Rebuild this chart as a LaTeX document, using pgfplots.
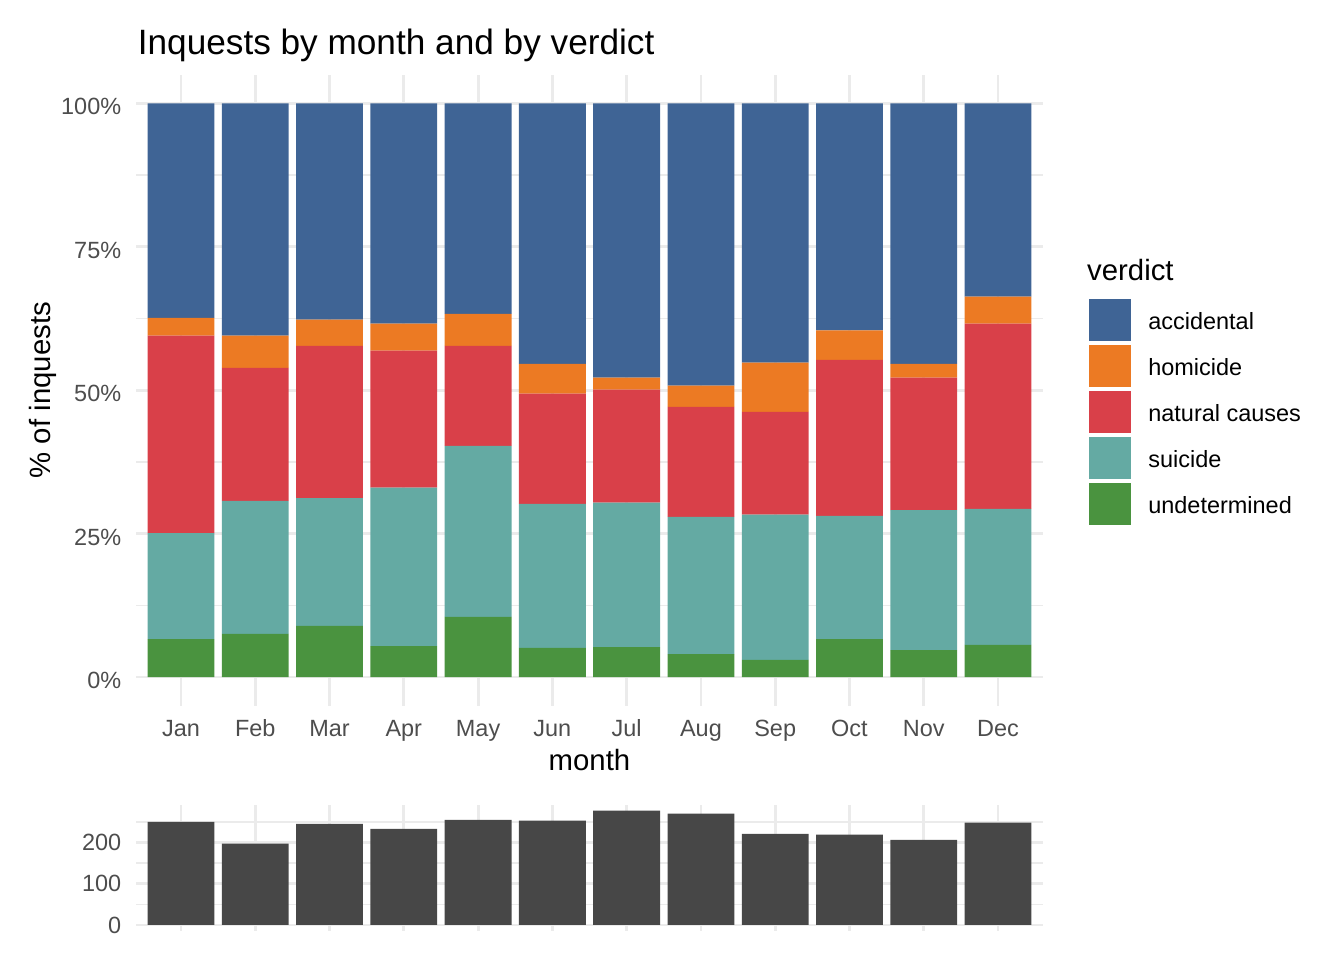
\documentclass[border=0pt]{standalone}
\usepackage{fontspec}
\setmainfont{Liberation Sans}
\usepackage{pgfplots}
\pgfplotsset{compat=1.18}
\usepackage{pgfplotstable}

\definecolor{cacc}{HTML}{3F6495}
\definecolor{chom}{HTML}{EC7A23}
\definecolor{cnat}{HTML}{D94049}
\definecolor{csui}{HTML}{64AAA3}
\definecolor{cund}{HTML}{4A933F}
\definecolor{gridc}{HTML}{EBEBEB}
\definecolor{tickc}{HTML}{4D4D4D}
\definecolor{barc}{HTML}{474747}

\pgfplotstableread{
m und sui nat hom acc
1 6.6 18.5 34.4 3.1 37.4
2 7.5 23.2 23.2 5.6 40.5
3 8.9 22.3 26.5 4.6 37.7
4 5.4 27.6 23.9 4.7 38.4
5 10.5 29.8 17.4 5.6 36.7
6 5.1 25.1 19.2 5.2 45.4
7 5.2 25.2 19.7 2.1 47.8
8 4.0 23.9 19.2 3.7 49.2
9 3.0 25.3 17.9 8.6 45.2
10 6.6 21.5 27.2 5.1 39.6
11 4.7 24.4 23.1 2.4 45.4
12 5.6 23.7 32.3 4.7 33.7
}\verdicttable

\pgfplotstableread{
m n
1 250
2 197
3 245
4 233
5 255
6 253
7 277
8 270
9 221
10 219
11 206
12 248
}\counttable

\pgfplotsset{
  common/.style={
    scale only axis,
    width=339.83pt,
    xmin=0.4, xmax=12.6,
    enlargelimits=false,
    axis line style={draw=none},
    major tick length=0pt,
    minor tick length=0pt,
    tick style={draw=none},
    xtick={1,2,3,4,5,6,7,8,9,10,11,12},
    xmajorgrids, ymajorgrids, yminorgrids,
    major grid style={draw=gridc, line width=1.07pt},
    minor grid style={draw=gridc, line width=0.53pt},
    tick label style={font=\fontsize{8.8}{10.56}\selectfont, text=tickc, inner sep=0pt},
    /pgf/number format/assume math mode=true,
  }
}

\begin{document}
\begin{tikzpicture}
\path[use as bounding box] (0,0) rectangle (504pt,360pt);

\begin{axis}[
  common,
  at={(51.15pt,95.36pt)}, anchor=south west,
  height=236.66pt,
  ymin=-5, ymax=105,
  ybar stacked, bar width=0.9,
  ytick={0,25,50,75,100},
  yticklabels={0\%,25\%,50\%,75\%,100\%},
  minor ytick={12.5,37.5,62.5,87.5},
  xticklabels={Jan,Feb,Mar,Apr,May,Jun,Jul,Aug,Sep,Oct,Nov,Dec},
  xticklabel style={anchor=base, yshift=-11.7pt},
  yticklabel style={anchor=base east, xshift=-5.5pt, yshift=-4.3pt},
  title={Inquests by month and by verdict},
  every axis title/.style={at={(axis description cs:0.001,1.0311)}, anchor=base west, inner sep=0pt, font=\fontsize{13.2}{15.84}\selectfont},
  xlabel={month},
  xlabel style={at={(axis description cs:0.5,-0.1019)}, anchor=base, inner sep=0pt, font=\fontsize{11}{13.2}\selectfont},
  ylabel={\% of inquests},
  every axis y label/.style={at={(axis description cs:-0.0946,0.5)}, rotate=90, anchor=base, inner sep=0pt, font=\fontsize{11}{13.2}\selectfont},
  legend image code/.code={\fill[#1] (0pt,-4.5pt) rectangle (15.75pt,11.25pt);},
  reverse legend,
  legend cell align=left,
  legend style={at={(axis description cs:1.0512,0.6444)}, anchor=north west, draw=none, fill=none, inner sep=0pt, outer sep=0pt, row sep=1.5pt, column sep=6.5pt,
    nodes={inner sep=0pt, anchor=base west, font=\fontsize{8.8}{10.56}\selectfont, text=black}},
]
\addplot[fill=cund, draw=none] table[x=m, y=und]{\verdicttable};
\addlegendentry{undetermined}
\addplot[fill=csui, draw=none] table[x=m, y=sui]{\verdicttable};
\addlegendentry{suicide}
\addplot[fill=cnat, draw=none] table[x=m, y=nat]{\verdicttable};
\addlegendentry{natural causes}
\addplot[fill=chom, draw=none] table[x=m, y=hom]{\verdicttable};
\addlegendentry{homicide}
\addplot[fill=cacc, draw=none] table[x=m, y=acc]{\verdicttable};
\addlegendentry{accidental}
\end{axis}

\node[anchor=base west, inner sep=0pt, font=\fontsize{11}{13.2}\selectfont] at (407.5pt,255pt) {verdict};

\begin{axis}[
  common,
  at={(51.15pt,10.99pt)}, anchor=south west,
  height=47.14pt,
  ymin=-13.85, ymax=290.85,
  ybar, bar width=0.9,
  ytick={0,100,200},
  yticklabels={0,100,200},
  minor ytick={50,150,250},
  xticklabels={},
  yticklabel style={anchor=base east, xshift=-5.5pt, yshift=-3.1pt},
]
\addplot[fill=barc, draw=none, bar shift=0pt] table[x=m, y=n]{\counttable};
\end{axis}
\end{tikzpicture}
\end{document}
